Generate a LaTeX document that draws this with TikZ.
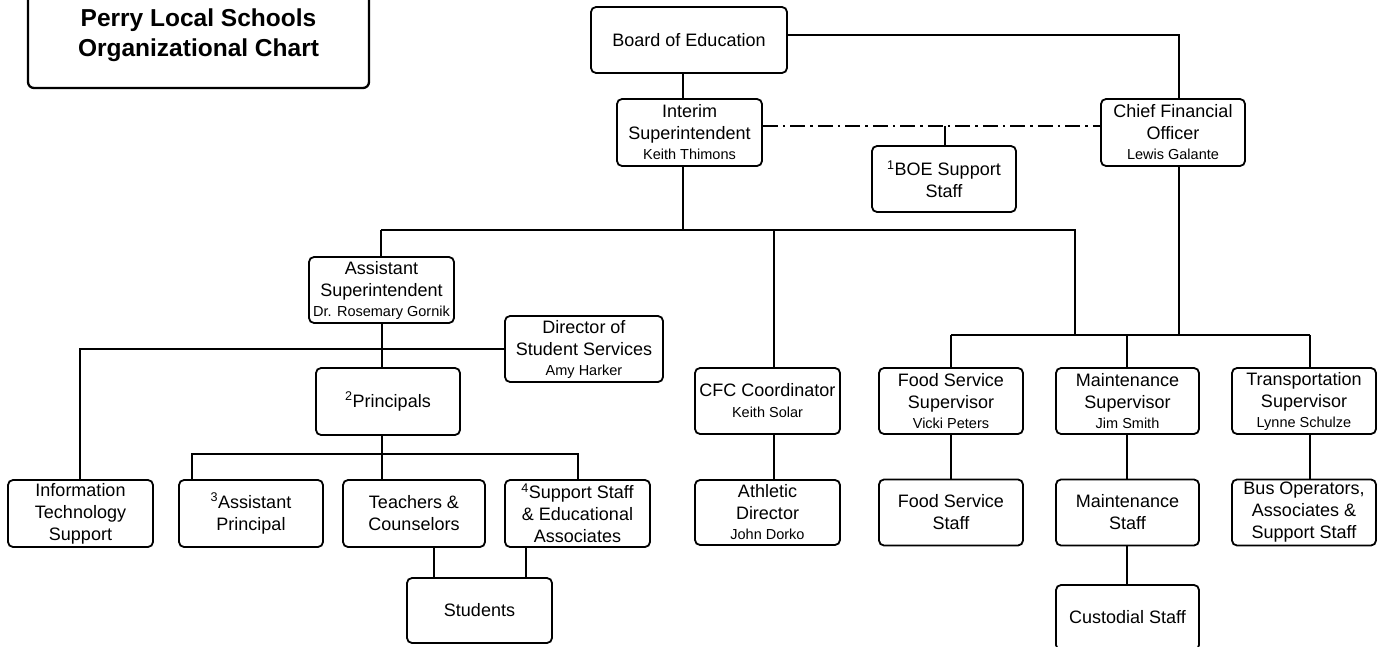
\documentclass[tikz,border=0pt]{standalone}
\usepackage{fontspec}
\setmainfont{Liberation Sans}
\newcommand\pname[1]{{\fontsize{14.5}{17}\selectfont #1}}
\begin{document}
\begin{tikzpicture}[x=1pt,y=-1pt,
  box/.style={draw, line width=1.8pt, rounded corners=5pt, align=center, inner sep=0pt,
    font=\fontsize{18}{22}\selectfont, minimum width=145pt, minimum height=66pt},
  titlebox/.style={draw, line width=2.3pt, rounded corners=6pt, align=center, inner sep=0pt,
    font=\bfseries\fontsize{24.5}{30}\selectfont},
  conn/.style={line width=1.8pt},
  dashdot/.style={line width=1.8pt, dash pattern=on 15pt off 5pt on 2.5pt off 5pt},
  ]
\useasboundingbox (0,0) rectangle (1382,647);
\fill[white] (0,0) rectangle (1382,647);

% title
\node[titlebox, minimum width=341pt, minimum height=106pt] (title) at (198.5,35)
  {Perry Local Schools\\Organizational Chart};

% top level
\node[box, minimum width=196pt] (boe) at (689,40) {Board of Education};
\node[box, minimum height=67pt] (int) at (689.5,132.5)
  {Interim\\Superintendent\\[-2pt]\pname{Keith Thimons}};
\node[box, minimum width=144pt] (boess) at (944,179)
  {\textsuperscript{1}BOE Support\\Staff};
\node[box, minimum width=144pt, minimum height=67pt] (cfo) at (1173,132.5)
  {Chief Financial\\Officer\\[-2pt]\pname{Lewis Galante}};

% left branch
\node[box] (asup) at (381.5,290)
  {Assistant\\Superintendent\\[-2pt]\pname{Dr. Rosemary Gornik}};
\node[box, minimum width=158pt] (dss) at (584,349)
  {Director of\\Student Services\\[-2pt]\pname{Amy Harker}};
\node[box, minimum width=144pt, minimum height=67pt] (prin) at (388,401.5)
  {\textsuperscript{2}Principals};
\node[box, minimum height=67pt] (it) at (80.5,513.5)
  {Information\\Technology\\Support};
\node[box, minimum width=144pt, minimum height=67pt] (aprin) at (251,513.5)
  {\textsuperscript{3}Assistant\\Principal};
\node[box, minimum width=142pt, minimum height=67pt] (teach) at (414,513.5)
  {Teachers \&\\Counselors};
\node[box, minimum height=67pt] (supp) at (577.5,513.5)
  {\textsuperscript{4}Support Staff\\\& Educational\\Associates};
\node[box, minimum height=65pt] (stud) at (479.5,610.5) {Students};

% CFC
\node[box] (cfc) at (767.5,401) {CFC Coordinator\\[-1pt]\pname{Keith Solar}};
\node[box, minimum height=65pt] (ath) at (767.5,512.5)
  {Athletic\\Director\\[-2pt]\pname{John Dorko}};

% right branch
\node[box, minimum width=144pt] (fsup) at (951,401)
  {Food Service\\Supervisor\\[-2pt]\pname{Vicki Peters}};
\node[box, minimum width=143pt] (msup) at (1127.5,401)
  {Maintenance\\Supervisor\\[-2pt]\pname{Jim Smith}};
\node[box, minimum width=144pt] (tsup) at (1304,401)
  {Transportation\\Supervisor\\[-2pt]\pname{Lynne Schulze}};
\node[box, minimum width=144pt] (fstaff) at (951,512.5) {Food Service\\Staff};
\node[box, minimum width=143pt] (mstaff) at (1127.5,512.5) {Maintenance\\Staff};
\node[box, minimum width=144pt] (bus) at (1304,512.5)
  {Bus Operators,\\Associates \&\\Support Staff};
\node[box, minimum width=143pt, minimum height=65pt] (cust) at (1127.5,617.5) {Custodial Staff};

% junction coordinates
\coordinate (jtop) at (683,230);
\coordinate (jl) at (381,230);
\coordinate (jcfc) at (774,230);
\coordinate (jr) at (1075,230);
\coordinate (jr2) at (1075,335);
\coordinate (jcfo) at (1179,35);
\coordinate (jcfob) at (1179,335);
\coordinate (jfs) at (951,335);
\coordinate (jms) at (1127,335);
\coordinate (jts) at (1310,335);
\coordinate (jdd) at (945,126);
\coordinate (jit) at (80,349);
\coordinate (jas) at (382,349);
\coordinate (jpl) at (192,454);
\coordinate (jpm) at (382,454);
\coordinate (jpr) at (578,454);
\coordinate (jts1) at (434,560);
\coordinate (jss1) at (526,560);

% connectors
\draw[conn] (boe.south -| jtop) -- (int.north -| jtop);
\draw[conn] (boe.east |- jcfo) -- (jcfo) -- (cfo.north -| jcfo);
\draw[dashdot] (int.east |- jdd) -- (cfo.west |- jdd);
\draw[conn] (jdd) -- (boess.north -| jdd);
\draw[conn] (int.south -| jtop) -- (jtop);
\draw[conn] (jl) -- (jr) -- (jr2);
\draw[conn] (jl) -- (asup.north -| jl);
\draw[conn] (jcfc) -- (cfc.north -| jcfc);
\draw[conn] (cfo.south -| jcfob) -- (jcfob);
\draw[conn] (jfs) -- (jts);
\draw[conn] (jfs) -- (fsup.north -| jfs);
\draw[conn] (jms) -- (msup.north -| jms);
\draw[conn] (jts) -- (tsup.north -| jts);
% left
\draw[conn] (asup.south -| jas) -- (prin.north -| jas);
\draw[conn] (dss.west |- jit) -- (jit) -- (it.north -| jit);
\draw[conn] (prin.south -| jpm) -- (jpm);
\draw[conn] (aprin.north -| jpl) -- (jpl) -- (jpr) -- (supp.north -| jpr);
\draw[conn] (jpm) -- (teach.north -| jpm);
\draw[conn] (teach.south -| jts1) -- (stud.north -| jts1);
\draw[conn] (supp.south -| jss1) -- (stud.north -| jss1);
% lower
\draw[conn] (cfc.south -| jcfc) -- (ath.north -| jcfc);
\draw[conn] (fsup.south -| jfs) -- (fstaff.north -| jfs);
\draw[conn] (msup.south -| jms) -- (mstaff.north -| jms);
\draw[conn] (mstaff.south -| jms) -- (cust.north -| jms);
\draw[conn] (tsup.south -| jts) -- (bus.north -| jts);
\end{tikzpicture}
\end{document}
